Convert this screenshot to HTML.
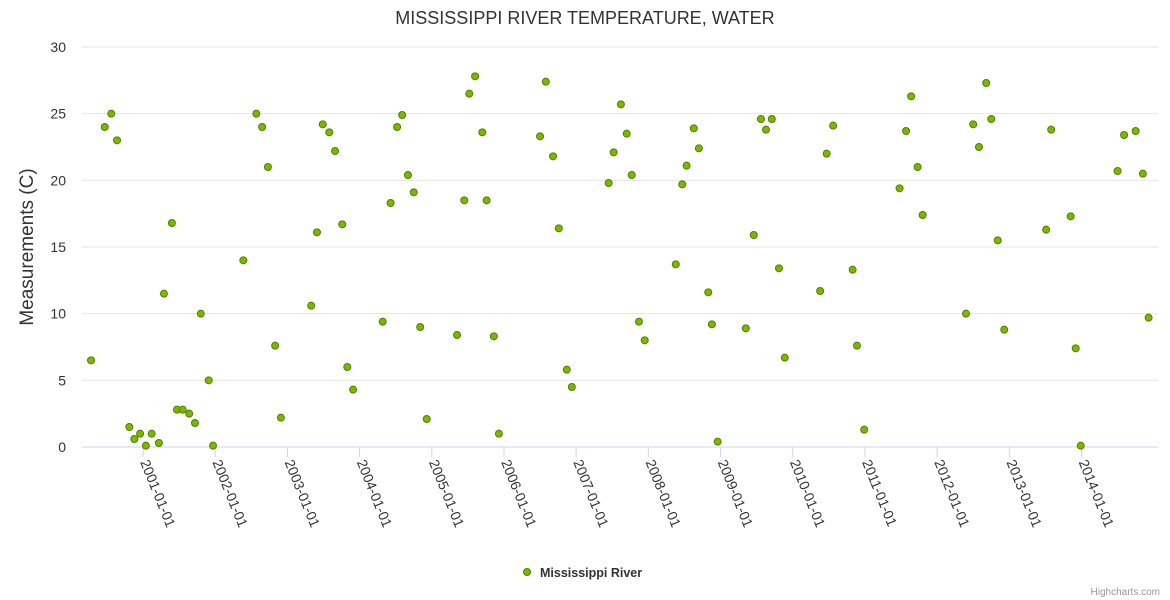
<!DOCTYPE html>
<html><head><meta charset="utf-8"><style>
html,body{margin:0;padding:0;background:#fff;}
svg{display:block;font-family:"Liberation Sans",Arial,sans-serif;}
</style></head><body>
<svg id="chart" width="1170" height="600">
<text x="585" y="24" text-anchor="middle" font-size="18" fill="#333">MISSISSIPPI RIVER TEMPERATURE, WATER</text>
<text transform="translate(33,247) rotate(-90)" text-anchor="middle" font-size="19" fill="#333">Measurements (C)</text>
<g id="grid"></g><g id="xaxis"></g><g id="points"></g>
<g>
<circle cx="527" cy="572" r="3.5" fill="#7ab800" stroke="#4f8000" stroke-width="1"></circle>
<text x="540" y="577" font-size="12.5" font-weight="bold" fill="#333">Mississippi River</text>
</g>
<text x="1160" y="595" text-anchor="end" font-size="10" fill="#999">Highcharts.com</text>
</svg>
<script>
const dates=[2000.28,2000.47,2000.56,2000.64,2000.81,2000.88,2000.96,2001.04,2001.12,2001.22,2001.29,2001.40,2001.47,2001.55,2001.64,2001.72,2001.80,2001.91,2001.97,2002.39,2002.57,2002.65,2002.73,2002.83,2002.91,2003.33,2003.41,2003.49,2003.58,2003.66,2003.76,2003.83,2003.91,2004.32,2004.43,2004.52,2004.59,2004.67,2004.75,2004.84,2004.93,2005.35,2005.45,2005.52,2005.60,2005.70,2005.76,2005.86,2005.93,2006.50,2006.58,2006.68,2006.76,2006.87,2006.94,2007.45,2007.52,2007.62,2007.70,2007.77,2007.87,2007.95,2008.38,2008.47,2008.53,2008.63,2008.70,2008.83,2008.88,2008.96,2009.35,2009.46,2009.56,2009.63,2009.71,2009.81,2009.89,2010.38,2010.47,2010.56,2010.83,2010.89,2010.99,2011.48,2011.57,2011.64,2011.73,2011.80,2012.40,2012.50,2012.58,2012.68,2012.75,2012.84,2012.93,2013.51,2013.58,2013.85,2013.92,2013.99,2014.50,2014.59,2014.75,2014.85,2014.93];
const temps=[6.5,24,25,23,1.5,0.6,1.0,0.1,1.0,0.3,11.5,16.8,2.8,2.8,2.5,1.8,10.0,5.0,0.1,14.0,25.0,24.0,21.0,7.6,2.2,10.6,16.1,24.2,23.6,22.2,16.7,6.0,4.3,9.4,18.3,24.0,24.9,20.4,19.1,9.0,2.1,8.4,18.5,26.5,27.8,23.6,18.5,8.3,1.0,23.3,27.4,21.8,16.4,5.8,4.5,19.8,22.1,25.7,23.5,20.4,9.4,8.0,13.7,19.7,21.1,23.9,22.4,11.6,9.2,0.4,8.9,15.9,24.6,23.8,24.6,13.4,6.7,11.7,22.0,24.1,13.3,7.6,1.3,19.4,23.7,26.3,21.0,17.4,10.0,24.2,22.5,27.3,24.6,15.5,8.8,16.3,23.8,17.3,7.4,0.1,20.7,23.4,23.7,20.5,9.7];
const yTicks=[0,5,10,15,20,25,30];
const xTickYears=[2001,2002,2003,2004,2005,2006,2007,2008,2009,2010,2011,2012,2013,2014];
const NS='http://www.w3.org/2000/svg';
const L=82,R=1158,T=47,B=447,X0=2000.155,X1=2015.06;
const xs=v=>L+(v-X0)/(X1-X0)*(R-L);
const ys=v=>B-v/30*(B-T);
function mk(tag,at,parent){const e=document.createElementNS(NS,tag);for(const k in at)e.setAttribute(k,at[k]);parent.appendChild(e);return e;}
const grid=document.getElementById('grid');
yTicks.forEach(t=>{
  const l=mk('line',{x1:L,x2:R,y1:ys(t),y2:ys(t),stroke:t===0?'#ccd6eb':'#e6e6e6','stroke-width':1},grid);
  
  
  const tx=mk('text',{x:66,y:ys(t)+5,'text-anchor':'end','font-size':14,fill:'#333'},grid);
  tx.textContent=t;
  
  
});
const xa=document.getElementById('xaxis');
xTickYears.forEach(y=>{
  const x=xs(y);
  const tk=mk('line',{x1:x,x2:x,y1:B,y2:B+10,stroke:'#ccd6eb'},xa);
  
  
  const tx=mk('text',{transform:'translate('+(x-3)+','+(B+15)+') rotate(68)','font-size':14,fill:'#333'},xa);
  tx.textContent=y+'-01-01';
  
  
});
const pts=document.getElementById('points');
dates.forEach((d,i)=>{
  const c=mk('circle',{cx:xs(d),cy:ys(temps[i]),r:3.5,fill:'#7ab800',stroke:'#4f8000','stroke-width':1},pts);
  
  
});
</script>
</body></html>
